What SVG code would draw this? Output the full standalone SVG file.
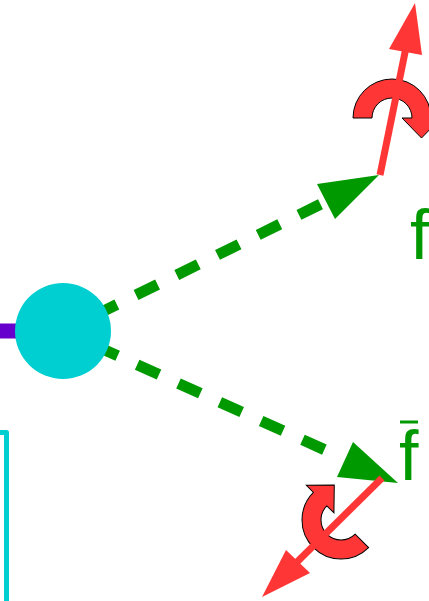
<svg xmlns="http://www.w3.org/2000/svg" width="429" height="601" viewBox="0 0 429 601">
<style>
.dash{stroke:#009900;stroke-width:11;stroke-dasharray:24 21.4;fill:none}
.head{fill:#009900}
.red{stroke:#ff3636;stroke-width:7;fill:none}
.redhead{fill:#ff3636}
.rot{fill:#ff3636;stroke:#000;stroke-width:1}
.lbl{font-family:"Liberation Sans",Arial,sans-serif;font-size:70px;fill:#009900}
</style>
<defs>
<path id="ring" d="M-39,0 A39,39 0 0 1 39,0 L49,0 L29.5,20 L10,0 L20,0 A20,20 0 0 0 -20,0 Z"/>
</defs>
<g id="connectors">
<path class="dash" d="M95.3,315.1 L326,201.5"/>
<polygon class="head" points="317,184 379,175 335,219"/>
<path class="dash" d="M95.8,345.9 L334,454"/>
<polygon class="head" points="353,442 337,477 398,483"/>
</g>
<g id="cyanbar"><path d="M0,432.5 H6.5 V601" fill="none" stroke="#00cfd1" stroke-width="5" stroke-linejoin="round"/></g>
<g id="purple"><line x1="0" y1="331" x2="20" y2="331" stroke="#6600cc" stroke-width="15"/></g>
<g id="vertex"><circle cx="63" cy="331" r="48" fill="#00cfd1"/></g>
<g id="spin-f">
<use href="#ring" class="rot" transform="translate(392,118)"/>
<line class="red" x1="380" y1="175" x2="405.5" y2="50"/>
<polygon class="redhead" points="415,3 422,55 389,49"/>
</g>
<g id="spin-fbar">
<use href="#ring" class="rot" transform="translate(341,520) rotate(225)"/>
<line class="red" x1="382" y1="478" x2="296" y2="563"/>
<polygon class="redhead" points="262,597 286,550 310,573"/>
</g>
<g id="label-f"><text class="lbl" x="410" y="259">f</text></g>
<g id="label-fbar"><text class="lbl" x="399" y="480">f</text><line x1="400" y1="422" x2="418" y2="422" stroke="#009900" stroke-width="3"/></g>
</svg>
